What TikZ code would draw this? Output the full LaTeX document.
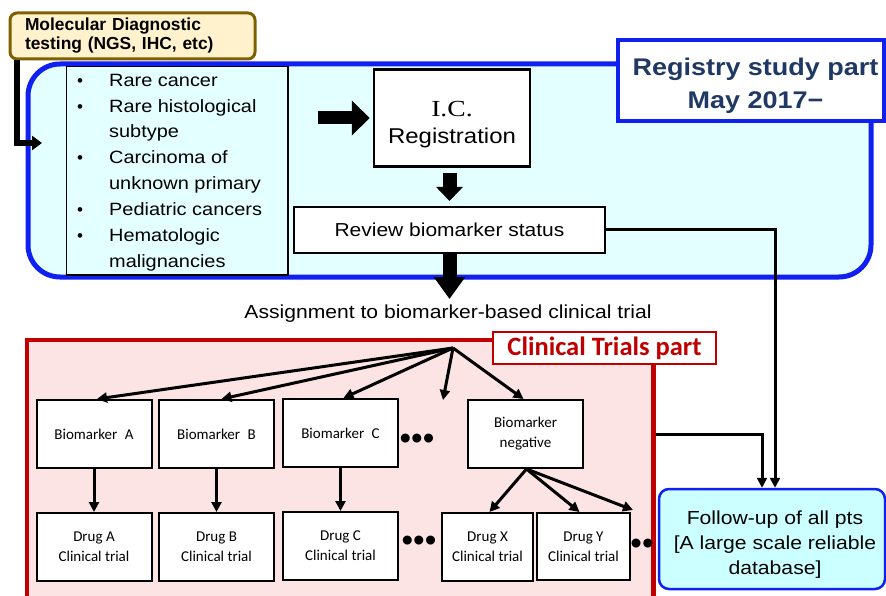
\documentclass[tikz,border=0pt]{standalone}
\usepackage{fontspec}
\setmainfont[FakeStretch=1.12]{Liberation Sans}
\newfontfamily\plainsans{Liberation Sans}
\newfontfamily\calfont{Carlito}
\newfontfamily\icfont[FakeStretch=1.2]{Liberation Serif}
\usetikzlibrary{arrows.meta}
\definecolor{regblue}{RGB}{16,32,240}
\definecolor{regfill}{RGB}{228,255,255}
\definecolor{fufill}{RGB}{204,255,255}
\definecolor{ctred}{RGB}{192,0,0}
\definecolor{ctfill}{RGB}{253,228,228}
\definecolor{navytxt}{RGB}{31,56,100}
\definecolor{molbrown}{RGB}{127,96,0}
\definecolor{molfill}{RGB}{255,242,204}
\newcommand\fsz[2]{\fontsize{#1}{#2}\selectfont}
\begin{document}
\begin{tikzpicture}[x=1pt,y=-1pt,
  wbox/.style={draw=black, fill=white, line width=2pt, inner sep=0pt, align=center},
  bm/.style={wbox, minimum width=115pt, minimum height=68pt, font=\calfont\fsz{15}{20}},
  arr/.style={line width=3pt, -{Triangle[length=10pt,width=10pt]}},
  dotstxt/.style={font=\plainsans\fsz{33}{33}, inner sep=0pt},
  plaintxt/.style={inner sep=0pt, align=center}
]
\useasboundingbox (0,0) rectangle (886,596);
\clip (0,0) rectangle (886,596);

% Registry study part (blue rounded box)
\node[draw=regblue, fill=regfill, line width=5pt, rounded corners=32pt,
      minimum width=843pt, minimum height=213pt, inner sep=0pt] (reg) at (449.5,170.5) {};
% list box
\node[draw=black, fill=regfill, line width=1.2pt, minimum width=221.5pt,
      minimum height=208.5pt, inner sep=0pt] (list) at (177.25,170.75) {};
\node[anchor=north west, inner sep=0pt, font=\fsz{17.8}{25.9}] (items) at (77,67.8)
  {\begin{tabular}{@{}l@{\hspace{26pt}}l@{}}
   {\plainsans\fsz{17}{25.9}\textbullet} & Rare cancer\\
   {\plainsans\fsz{17}{25.9}\textbullet} & Rare histological\\
               & subtype\\
   {\plainsans\fsz{17}{25.9}\textbullet} & Carcinoma of\\
               & unknown primary\\
   {\plainsans\fsz{17}{25.9}\textbullet} & Pediatric cancers\\
   {\plainsans\fsz{17}{25.9}\textbullet} & Hematologic\\
               & malignancies
   \end{tabular}};

% I.C. Registration
\node[wbox, line width=2.5pt, minimum width=156pt, minimum height=97pt] (ic) at (452,118) {};
\node[plaintxt, font=\fsz{21.4}{27}] (ictext) at (452,125)
      {{\icfont\fsz{23}{27}I.C.}\\Registration};
% Review biomarker status
\node[wbox, minimum width=311pt, minimum height=46pt, font=\fsz{18.75}{22}]
      (review) at (449.5,230) {Review biomarker status};

% block arrows
\draw[line width=13pt, -{Triangle[length=18pt,width=34pt]}, shorten <=29pt, shorten >=3pt]
      (list.east |- ic.west) -- (ic.west);
\draw[line width=14pt, -{Triangle[length=14pt,width=26pt]}, shorten <=5pt, shorten >=5pt]
      (review.north |- ic.south) -- (review.north);

% assignment text
\node[plaintxt, font=\fsz{18.85}{22}] (assign) at (448,314)
      {Assignment to biomarker-based clinical trial};
\draw[line width=14pt, -{Triangle[length=22pt,width=30pt]}, shorten >=6pt]
      (review.south) -- (review.south |- assign.north);

% Clinical trials part (red box)
\node[draw=ctred, fill=ctfill, line width=4.5pt, minimum width=626.5pt,
      minimum height=280pt, inner sep=0pt] (ct) at (340.25,480) {};

% Registry label
\node[draw=regblue, fill=white, line width=3.5pt, minimum width=266pt, minimum height=81pt,
      inner sep=0pt] (reglabel) at (751,80.5) {};
\node[plaintxt, text=navytxt, font=\bfseries\fsz{24.1}{33}] (regtext) at (755.5,86)
      {Registry study part\\May 2017\symbol{"2212}};

% Clinical Trials label
\node[draw=ctred, fill=white, line width=2.5pt, minimum width=223pt, minimum height=32pt,
      inner sep=0pt, text=ctred, font=\calfont\bfseries\fsz{26.5}{28}]
      (ctlabel) at (604.5,348) {Clinical Trials part};

% Molecular diagnostic box
\node[draw=molbrown, fill=molfill, line width=3pt, rounded corners=7pt,
      minimum width=245pt, minimum height=46pt, text width=215pt, inner xsep=15pt,
      inner ysep=0pt, align=left, font=\plainsans\bfseries\fsz{17.4}{19}]
      (mol) at (132.5,36) {Molecular Diagnostic\\testing (NGS, IHC, etc)};
\coordinate (lend) at (42,143);
\draw[line width=6pt, -{Triangle[length=10pt,width=14pt]}]
      ([xshift=8.5pt]mol.south west) |- (lend);

% biomarker boxes
\node[bm] (bA) at (94,434) {Biomarker\enspace A};
\node[bm] (bB) at (216.5,434) {Biomarker\enspace B};
\node[bm] (bC) at (340.5,433) {Biomarker\enspace C};
\node[bm] (bN) at (525.5,434) {Biomarker\\negative};
% drug boxes
\node[bm] (dA) at (94,547) {Drug A\\Clinical trial};
\node[bm] (dB) at (216.5,547) {Drug B\\Clinical trial};
\node[bm] (dC) at (340.5,546) {Drug C\\Clinical trial};
\node[bm, minimum width=91pt] (dX) at (487.5,547) {Drug X\\Clinical trial};
\node[bm, minimum width=93pt, minimum height=67pt] (dY) at (583.5,546.5) {Drug Y\\Clinical trial};

% dots
\node[dotstxt] (dots1) at (417,442) {•••};
\node[dotstxt] (dots2) at (419,544) {•••};
\node[dotstxt] (dots3) at (642,547) {••};

% fan out
\coordinate (fan) at (453,348);
\coordinate (fanmore) at (443,400);
\draw[arr] (fan) -- ([xshift=3pt]bA.north);
\draw[arr] (fan) -- ([xshift=5pt]bB.north);
\draw[arr] (fan) -- ([xshift=3pt]bC.north);
\draw[arr] (fan) -- (fanmore);
\draw[arr] (fan) -- ([xshift=-2pt]bN.north);

\draw[arr] (bA) -- (dA);
\draw[arr] (bB) -- (dB);
\draw[arr] (bC) -- (dC);

\coordinate (negmore) at (633,510);
\draw[arr] ([xshift=1pt]bN.south) -- ([xshift=2pt]dX.north);
\draw[arr] ([xshift=1pt]bN.south) -- ([xshift=-4pt]dY.north);
\draw[arr] ([xshift=1pt]bN.south) -- (negmore);

% follow-up
\node[draw=regblue, fill=fufill, line width=2.5pt, rounded corners=10pt,
      minimum width=226pt, minimum height=100pt, inner sep=0pt] (fu) at (772,539) {};
\node[plaintxt, font=\fsz{18.9}{25}] (futext) at (775,545)
      {Follow-up of all pts\\{[}A large scale reliable\\database{]}};

\draw[arr] (review.east) -| ([xshift=3pt]fu.north);
\draw[arr] (ct.east |- bN) -| ([xshift=-10pt]fu.north);
\end{tikzpicture}
\end{document}
